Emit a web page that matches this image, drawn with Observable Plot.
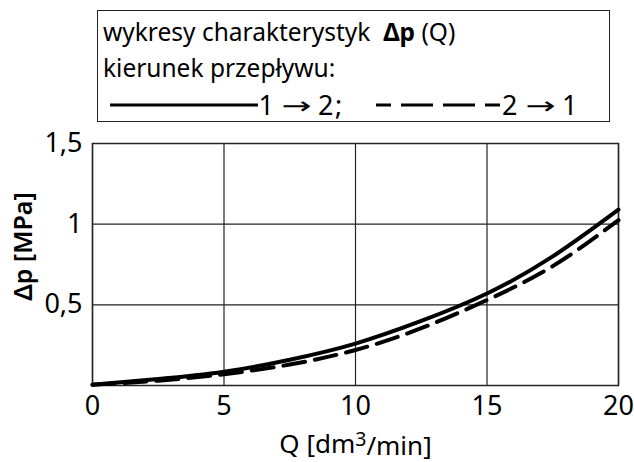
<!DOCTYPE html>
<html><head><meta charset="utf-8">
<script src="https://cdn.jsdelivr.net/npm/d3@7"></script>
<script src="https://cdn.jsdelivr.net/npm/@observablehq/plot@0.6"></script>
<style>
body{margin:0;background:#fff;font-family:"Noto Sans",sans-serif;}
#wrap{position:relative;width:634px;height:462px;}
#legend{position:absolute;z-index:2;left:97px;top:10px;width:513px;height:112px;border:1.5px solid #222;box-sizing:border-box;font-size:24.5px;color:#000;background:#fff;}
#legend .t{position:absolute;left:5px;white-space:nowrap;line-height:1;}
#legend svg{overflow:visible;}
#chart{position:absolute;z-index:1;left:0;top:0;}
</style></head><body>
<div id="wrap">
  <div id="legend">
    <div class="t" style="top:9px">wykresy charakterystyk&nbsp; <b>Δp</b> (Q)</div>
    <div class="t" style="top:45px">kierunek przepływu:</div>
    <svg style="position:absolute;left:0;top:68px" width="510" height="44" font-family="Noto Sans" font-size="27">
      <line x1="12" x2="160" y1="26" y2="26" stroke="#000" stroke-width="3"/>
      <text x="160.5" y="36">1</text>
      <text x="183.5" y="35" font-family="DejaVu Sans" font-size="24" textLength="30" lengthAdjust="spacingAndGlyphs">→</text>
      <text x="220" y="36">2</text>
      <text x="237" y="36">;</text>
      <line x1="278" x2="402" y1="26" y2="26" stroke="#000" stroke-width="3" stroke-dasharray="15 10 32 10 32 10 15"/>
      <text x="404" y="36">2</text>
      <text x="427.5" y="35" font-family="DejaVu Sans" font-size="24" textLength="30" lengthAdjust="spacingAndGlyphs">→</text>
      <text x="464" y="36">1</text>
    </svg>
  </div>
  <div id="chart"></div>
</div>
<script>
const Q = [0, 2.5, 5, 7.5, 10, 12.5, 15, 17.5, 20];
const dp12 = [0.005, 0.04, 0.085, 0.16, 0.26, 0.40, 0.57, 0.80, 1.09];
const dp21 = [0.005, 0.03, 0.07, 0.13, 0.22, 0.355, 0.53, 0.74, 1.025];
const xTicks = [0, 5, 10, 15, 20];
const yTicks = [0.5, 1, 1.5];
const xLabel = "Q [dm³/min]";
const yLabel = "Δp [MPa]";

const s12 = Q.map((q, i) => ({q, v: dp12[i]}));
const s21 = Q.map((q, i) => ({q, v: dp21[i]}));
const fmt = d => String(d).replace(".", ",");

const plot = Plot.plot({
  width: 634, height: 462,
  marginLeft: 92, marginRight: 16, marginTop: 143, marginBottom: 77,
  style: {fontFamily: "Noto Sans", fontSize: "26px", color: "#000", background: "#fff"},
  x: {domain: [0, 20]},
  y: {domain: [0, 1.5]},
  marks: [
    Plot.gridX(xTicks, {stroke: "#222", strokeOpacity: 1, strokeWidth: 1.2}),
    Plot.gridY(yTicks, {stroke: "#222", strokeOpacity: 1, strokeWidth: 1.2}),
    Plot.frame({stroke: "#222", strokeWidth: 1.5}),
    Plot.axisX(xTicks, {tickSize: 0, tickPadding: 10, tickFormat: fmt, fontSize: 27, label: xLabel, labelAnchor: "center", labelArrow: "none", labelOffset: 67}),
    Plot.axisY(yTicks, {tickSize: 0, tickPadding: 10, tickFormat: fmt, fontSize: 27, label: yLabel, labelAnchor: "center", labelArrow: "none", labelOffset: 78}),
    Plot.line(s12, {x: "q", y: "v", curve: "natural", stroke: "#000", strokeWidth: 4}),
    Plot.line(s21, {x: "q", y: "v", curve: "natural", stroke: "#000", strokeWidth: 4, strokeDasharray: "22 10"})
  ]
});
document.getElementById("chart").appendChild(plot);
// style the axis labels (y label medium weight; superscript exponent in x label)
d3.select(plot).selectAll("g[aria-label='y-axis label'] text")
  .attr("font-weight", 600).attr("font-size", 25).attr("dx", 18);
d3.select(plot).selectAll("g[aria-label='x-axis label'] text").each(function() {
  const t = d3.select(this);
  const parts = t.text().split("³");
  if (parts.length === 2) {
    t.text(null);
    t.append("tspan").text(parts[0]);
    t.append("tspan").attr("dy", "-0.35em").attr("font-size", "0.75em").text("3");
    t.append("tspan").attr("dy", "0.35em").text(parts[1]);
  }
}).attr("font-size", 26);
</script>
</body></html>
